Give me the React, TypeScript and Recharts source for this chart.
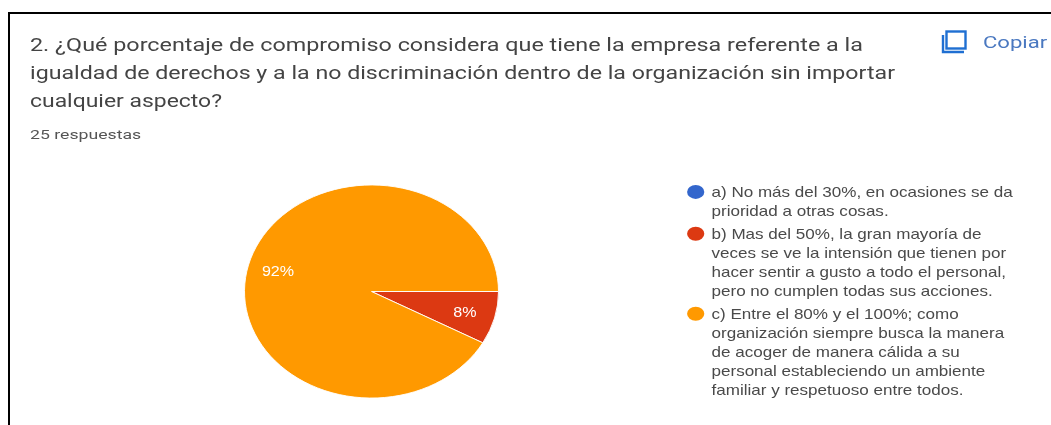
import { PieChart, Pie, Cell, Legend, Sector } from 'recharts';

// Question text, one entry per visual line
const titleLines = [
  '2. ¿Qué porcentaje de compromiso considera que tiene la empresa referente a la',
  'igualdad de derechos y a la no discriminación dentro de la organización sin importar',
  'cualquier aspecto?',
];
const titleWidths = [833, 865, 192];
const responsesLabel = '25 respuestas';
const copyLabel = 'Copiar';

// Answers, wrapped the way the legend shows them
const categoryLines = [
  ['a) No más del 30%, en ocasiones se da', 'prioridad a otras cosas.'],
  [
    'b) Mas del 50%, la gran mayoría de',
    'veces se ve la intensión que tienen por',
    'hacer sentir a gusto a todo el personal,',
    'pero no cumplen todas sus acciones.',
  ],
  [
    'c) Entre el 80% y el 100%; como',
    'organización siempre busca la manera',
    'de acoger de manera cálida a su',
    'personal estableciendo un ambiente',
    'familiar y respetuoso entre todos.',
  ],
];
const shares = [0, 8, 92];
const colors = ['#3366cc', '#dc3912', '#ff9900'];

const data = categoryLines.map((lines, i) => ({ name: lines.join(' '), value: shares[i] }));

const WIDTH = 1051;
const HEIGHT = 425;
const CX = 371.5;
const CY = 291.5;
const RADIUS = 127;
// the screenshot is stretched sideways, so the pie comes out as an ellipse
const SQUASH = 0.839;

const EllipseSector = (props: any) => (
  <g transform={`translate(${props.cx} ${props.cy}) scale(1 ${SQUASH}) translate(${-props.cx} ${-props.cy})`}>
    <Sector {...props} />
  </g>
);

const SliceLabel = ({ cx, cy, midAngle, outerRadius, percent }: any) => {
  if (!percent) return null;
  const r = outerRadius * 0.76;
  const x = cx + r * Math.cos((-midAngle * Math.PI) / 180);
  const y = cy + r * SQUASH * Math.sin((-midAngle * Math.PI) / 180);
  return (
    <text
      transform={`translate(${x} ${y + 5}) scale(1.15 1)`}
      textAnchor="middle"
      fill="#fff"
      fontSize={14}
      fontFamily="'Liberation Sans', Arial, sans-serif"
    >
      {`${Math.round(percent * 100)}%`}
    </text>
  );
};

const LEGEND_LINE = 19.1;
const LEGEND_GAP = 3.6;

const AnswerLegend = ({ payload }: any) => {
  let y = 196.7;
  return (
    <svg width={WIDTH} height={HEIGHT} style={{ display: 'block' }}>
      {(payload || []).map((entry: any, i: number) => {
        const lines = categoryLines[i];
        const top = y;
        y += lines.length * LEGEND_LINE + LEGEND_GAP;
        return (
          <g key={entry.value}>
            <ellipse cx={695.7} cy={top - 4.8} rx={8.6} ry={7} fill={entry.color} />
            {lines.map((line, j) => (
              <text
                key={line}
                transform={`translate(711.5 ${top + j * LEGEND_LINE}) scale(1.185 1)`}
                fontSize={14.4}
                fill="#4a4a4a"
                fontFamily="'Liberation Sans', Arial, sans-serif"
              >
                {line}
              </text>
            ))}
          </g>
        );
      })}
    </svg>
  );
};

export default function App() {
  return (
    <div
      style={{
        position: 'absolute',
        left: 0,
        top: 0,
        width: WIDTH,
        height: HEIGHT,
        overflow: 'hidden',
        background: '#fff',
        filter: 'blur(0.35px)',
      }}
    >
      {/* Only the top and left edges of the card frame are in the crop */}
      <div style={{ position: 'absolute', left: 8, top: 12, width: WIDTH, height: 1.5, background: '#000' }} />
      <div style={{ position: 'absolute', left: 8, top: 12, width: 1.5, height: HEIGHT, background: '#000' }} />

      <svg width={WIDTH} height={HEIGHT} style={{ position: 'absolute', left: 0, top: 0 }}>
        <g fontFamily="Roboto, sans-serif" fill="#444">
          {titleLines.map((line, i) => (
            <text
              key={line}
              x={30}
              y={51 + i * 28}
              fontSize={17.5}
              textLength={titleWidths[i]}
              lengthAdjust="spacingAndGlyphs"
            >
              {line}
            </text>
          ))}
          <text transform="translate(30 139) scale(1.36 1)" fontSize={13} fill="#555">
            {responsesLabel}
          </text>
          <text transform="translate(983 48) scale(1.38 1)" fontSize={16} fill="#4a78c0">
            {copyLabel}
          </text>
        </g>
        <g fill="none" stroke="#1f6fd2" strokeWidth={2.4}>
          <rect x={946.5} y={31.5} width={19} height={17} />
          <path d="M943 35 V52 H964" />
        </g>
      </svg>

      <div style={{ position: 'absolute', left: 0, top: 0 }}>
        <PieChart width={WIDTH} height={HEIGHT} margin={{ top: 0, right: 0, bottom: 0, left: 0 }}>
          <Pie
            data={data}
            dataKey="value"
            nameKey="name"
            cx={CX}
            cy={CY}
            outerRadius={RADIUS}
            startAngle={0}
            endAngle={-360}
            stroke="#fff"
            strokeWidth={1}
            label={SliceLabel}
            labelLine={false}
            shape={EllipseSector}
            isAnimationActive={false}
          >
            {data.map((d, i) => (
              <Cell key={d.name} fill={colors[i]} />
            ))}
          </Pie>
          <Legend
            content={AnswerLegend}
            wrapperStyle={{ position: 'absolute', left: 0, top: 0, width: WIDTH, height: HEIGHT, margin: 0 }}
          />
        </PieChart>
      </div>
    </div>
  );
}
